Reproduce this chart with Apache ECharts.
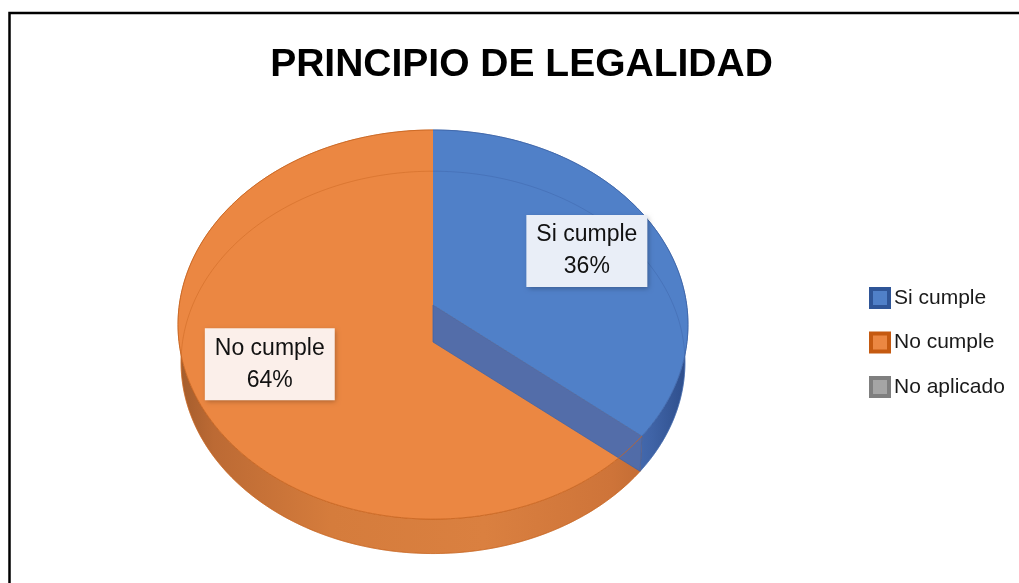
<!DOCTYPE html>
<html>
<head>
<meta charset="utf-8">
<script src="https://cdn.jsdelivr.net/npm/echarts@6/dist/echarts.min.js"></script>
<style>
  html, body { margin: 0; padding: 0; background: #ffffff; }
  #chart { width: 1019px; height: 583px; }
</style>
</head>
<body>
<div id="chart"></div>
<script>
// ---- data ----
const chartTitle = 'PRINCIPIO DE LEGALIDAD';
const categories = ['Si cumple', 'No cumple', 'No aplicado'];
const values = [36, 64, 0];

// ---- styles ----
const topColors = ['#5080C8', '#EB8742', '#A5A5A5'];
const edgeColors = ['#3D64A8', '#C8641F', '#7F7F7F'];
const cutColors = ['#4B6CAF', '#C96D2F', '#8A8A8A'];
const legendBorders = ['#2F5597', '#C55A11', '#7F7F7F'];
const labelBgColors = ['#E9EEF7', '#FBEFEA', '#F2F2F2'];
const sideStops = [
  [[0, '#3B5FA3'], [0.86, '#4A72B8'], [0.93, '#3F63A6'], [1, '#2D4D8A']],
  [[0, '#A35C2C'], [0.07, '#BC6A34'], [0.3, '#D57C3C'], [0.6, '#DA8040'], [0.85, '#CE7439'], [1, '#B5632F']],
  [[0, '#7F7F7F'], [1, '#7F7F7F']]
];

// tilted disc: top face and bottom face, with a little perspective
const TOP = { cx: 433, cy: 305, a: 253.7, b: 192.6, k: 0.1005 };
const BOT = { cx: 433, cy: 342, a: 250.5, b: 189, k: 0.1066 };
const X_LEFT = 178, X_RIGHT = 688;

const total = values.reduce((s, v) => s + v, 0);
function before(i) {
  let s = 0;
  for (let j = 0; j < i; j++) s += values[j];
  return s;
}

// angle in degrees, clockwise from 12 o'clock; r in [0, 1]
function proj(f, ang, r) {
  const t = ang * Math.PI / 180;
  const u = r * Math.sin(t), v = -r * Math.cos(t);
  const w = 1 - f.k * v;
  return [f.cx + f.a * u / w, f.cy + f.b * v / w];
}
function arc(f, a0, a1) {
  const n = Math.max(2, Math.ceil(Math.abs(a1 - a0)));
  const pts = [];
  for (let s = 0; s <= n; s++) pts.push(proj(f, a0 + (a1 - a0) * s / n, 1));
  return pts;
}

function renderSlice(params, api) {
  const i = params.seriesIndex;
  const v = values[i];
  if (!v) return { type: 'group', children: [] };
  const a0 = 360 * before(i) / total;
  const a1 = a0 + 360 * v / total;
  const topArc = arc(TOP, a0, a1);
  const botArc = arc(BOT, a0, a1);
  const cTop = proj(TOP, 0, 0);
  const cBot = proj(BOT, 0, 0);
  const children = [];

  // outer wall
  children.push({
    type: 'polygon', z2: 1,
    shape: { points: topArc.concat(botArc.slice().reverse()) },
    style: {
      fill: new echarts.graphic.LinearGradient(X_LEFT, 0, X_RIGHT, 0,
        sideStops[i].map(s => ({ offset: s[0], color: s[1] })), true),
      stroke: edgeColors[i], lineWidth: 0.6
    }
  });

  // top face
  children.push({
    type: 'polygon', z2: 2,
    shape: { points: [cTop].concat(topArc) },
    style: { fill: topColors[i] }
  });

  // lower rim, faintly showing through the top
  children.push({
    type: 'polyline', z2: 3,
    shape: { points: botArc },
    style: { stroke: edgeColors[i], lineWidth: 1, opacity: 0.45, fill: null }
  });

  // radial cut faces that face the viewer
  const faces = [];
  if (Math.sin(a1 * Math.PI / 180) > 0.01) faces.push(a1);
  if (Math.sin(a0 * Math.PI / 180) < -0.01) faces.push(a0);
  faces.forEach(a => {
    children.push({
      type: 'polygon', z2: 4,
      shape: { points: [cTop, proj(TOP, a, 1), proj(BOT, a, 1), cBot] },
      style: { fill: cutColors[i], opacity: 0.95, stroke: edgeColors[i], lineWidth: 0.8 }
    });
  });

  // rim of the top face
  children.push({
    type: 'polyline', z2: 5,
    shape: { points: topArc },
    style: { stroke: edgeColors[i], lineWidth: 1, opacity: 0.8, fill: null }
  });

  // data label
  const mid = (a0 + a1) / 2;
  const p = proj(TOP, mid, 0.69);
  const pct = Math.round(v / total * 100);
  children.push({
    type: 'text', z2: 10,
    style: {
      x: p[0], y: p[1] + 1,
      text: categories[i] + '\n' + pct + '%',
      align: 'center', verticalAlign: 'middle',
      fontFamily: '"Liberation Sans", Arial, sans-serif',
      fontSize: 23, lineHeight: 32,
      fill: '#111111',
      backgroundColor: labelBgColors[i],
      padding: [4, 10],
      shadowBlur: 5, shadowColor: 'rgba(0,0,0,0.28)',
      shadowOffsetX: 1.5, shadowOffsetY: 2
    }
  });

  return { type: 'group', children: children };
}

const chart = echarts.init(document.getElementById('chart'), null, { renderer: 'canvas' });

chart.setOption({
  animation: false,
  backgroundColor: '#ffffff',
  graphic: [
    {
      type: 'rect', silent: true,
      shape: { x: 9.5, y: 13, width: 1300, height: 900 },
      style: { fill: null, stroke: '#000000', lineWidth: 2.5 }
    },
    {
      type: 'text', silent: true,
      x: 521.5, y: 65.5,
      style: {
        text: chartTitle,
        align: 'center', verticalAlign: 'middle',
        fontFamily: '"Liberation Sans", Arial, sans-serif',
        fontSize: 39, fontWeight: 'bold',
        fill: '#000000'
      }
    }
  ],
  legend: {
    orient: 'vertical',
    left: 869, top: 287,
    padding: 0,
    icon: 'rect',
    itemWidth: 18, itemHeight: 18,
    itemGap: 22.5,
    selectedMode: false,
    textStyle: {
      fontFamily: '"Liberation Sans", Arial, sans-serif',
      fontSize: 21, lineHeight: 22, color: '#1a1a1a'
    },
    data: categories.map((c, i) => ({
      name: c,
      itemStyle: { color: topColors[i], borderColor: legendBorders[i], borderWidth: 4 }
    }))
  },
  series: categories.map((c, i) => ({
    type: 'custom',
    name: c,
    coordinateSystem: 'none',
    silent: true,
    itemStyle: { color: topColors[i] },
    renderItem: renderSlice,
    data: [values[i]]
  }))
});
</script>
</body>
</html>
